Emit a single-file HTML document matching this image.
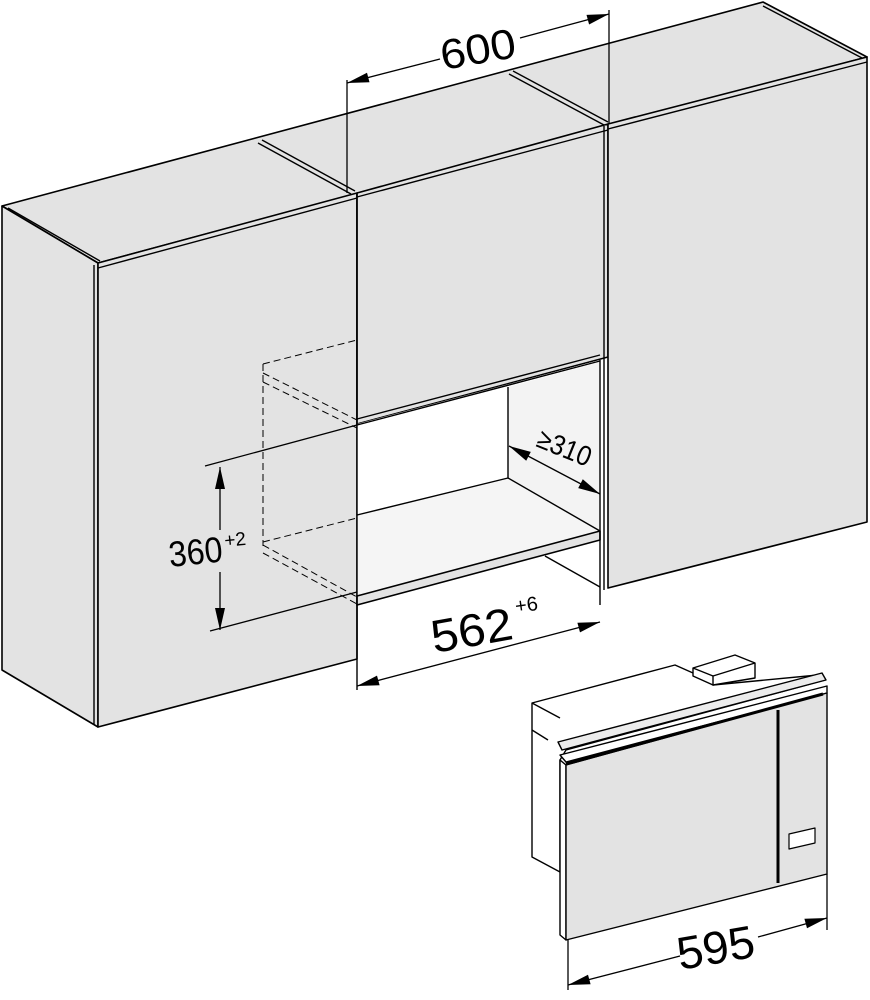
<!DOCTYPE html>
<html><head><meta charset="utf-8"><style>
html,body{margin:0;padding:0;background:#fff;}
svg{display:block;}
text{font-family:"Liberation Sans",sans-serif;fill:#000;}
</style></head><body>
<svg width="870" height="1000" viewBox="0 0 870 1000" xmlns="http://www.w3.org/2000/svg">
<g stroke="#000" stroke-width="1.6" stroke-linejoin="round" fill="#e3e3e3">
<polygon points="2,206 763,2 867,57 98,263"/>
<polygon points="2,206 98,263 98,727 2,670"/>
<polygon points="98,263 357,193 357,659 98,727"/>
<polygon points="357,193 608,124 608,357 357,424"/>
<polygon points="608,124 867,57 867,522 608,588"/>
<polygon points="357,424 600,360 600,531 357,596" fill="#fff" stroke="none"/>
<polygon points="508,387 600,362 600,531 508,478" fill="#f3f3f3" stroke="none"/>
<polygon points="357,515 508,478 600,531 357,596" fill="#f5f5f5" stroke="none"/>
<polygon points="357,596 600,531 600,540 357,605" fill="#e3e3e3"/>
</g>
<g stroke="#000" stroke-width="1.4" fill="none">
<line x1="8" y1="208" x2="100" y2="261"/>
<line x1="98" y1="268" x2="357" y2="198"/>
<line x1="262" y1="140" x2="355" y2="191"/>
<line x1="258" y1="143" x2="351" y2="194"/>
<line x1="357" y1="197" x2="608" y2="130"/>
<line x1="513" y1="71" x2="608" y2="122"/>
<line x1="509" y1="74" x2="604" y2="125"/>
<line x1="608" y1="129" x2="867" y2="62"/>
<line x1="763" y1="6" x2="862" y2="58"/>
<line x1="94" y1="265" x2="94" y2="725"/>
<line x1="357" y1="193" x2="357" y2="424"/>
<line x1="604" y1="126" x2="604" y2="590"/>
<line x1="357" y1="419" x2="600" y2="355"/>
<line x1="357" y1="425" x2="600" y2="361"/>
<line x1="508" y1="387" x2="508" y2="478"/>
<line x1="357" y1="515" x2="508" y2="478"/>
<line x1="508" y1="478" x2="600" y2="531"/>
<line x1="600" y1="360" x2="600" y2="605"/>
<line x1="545" y1="556" x2="600" y2="587"/>
<line x1="357" y1="424" x2="357" y2="690"/>
</g>
<g stroke="#000" stroke-width="1" fill="none" stroke-dasharray="7,4">
<line x1="263" y1="364" x2="357" y2="340"/>
<line x1="263" y1="364" x2="263" y2="546"/>
<line x1="263" y1="373" x2="357" y2="420"/>
<line x1="263" y1="382" x2="357" y2="428"/>
<line x1="263" y1="542" x2="357" y2="518"/>
<line x1="263" y1="545" x2="357" y2="597"/>
<line x1="263" y1="553" x2="357" y2="604"/>
</g>
<g stroke="#000" stroke-width="1.3" fill="none">
<line x1="347" y1="80" x2="347" y2="193"/>
<line x1="609" y1="10" x2="609" y2="124"/>
<line x1="347" y1="83" x2="440" y2="59"/>
<line x1="520" y1="38" x2="609" y2="14"/>
<line x1="205" y1="466" x2="357" y2="425"/>
<line x1="210" y1="631" x2="357" y2="592"/>
<line x1="220" y1="467" x2="220" y2="530"/>
<line x1="220" y1="572" x2="220" y2="630"/>
<line x1="357" y1="686" x2="600" y2="622"/>
<line x1="509" y1="446" x2="600" y2="494"/>
<line x1="568" y1="940" x2="568" y2="990"/>
<line x1="827" y1="874" x2="827" y2="930"/>
<line x1="568" y1="985" x2="680" y2="956"/>
<line x1="758" y1="937" x2="827" y2="918"/>
</g>
<g fill="#000" stroke="none">
<polygon points="347,83 369.5,82.3 367,72.7"/>
<polygon points="609,14 589.1,24.5 586.5,14.9"/>
<polygon points="220,467 215,489 225,489"/>
<polygon points="220,630 215,608 225,608"/>
<polygon points="357,686 379.6,685.2 377,675.6"/>
<polygon points="600,622 580,632.4 577.4,622.8"/>
<polygon points="509,446 526.2,460.7 530.8,451.9"/>
<polygon points="600,494 578.2,488.1 582.8,479.3"/>
<polygon points="568,985 590.6,984.3 588,974.7"/>
<polygon points="827,918 807,928.3 804.4,918.7"/>
</g>
<g>
<text x="0" y="0" font-size="42" textLength="76" lengthAdjust="spacingAndGlyphs" transform="translate(443,70) rotate(-10)">600</text>
<text x="0" y="0" font-size="36" textLength="54" lengthAdjust="spacingAndGlyphs" transform="translate(170,567) rotate(-6)">360</text>
<text x="0" y="0" font-size="19" transform="translate(225,547) rotate(-6)">+2</text>
<text x="0" y="0" font-size="46" textLength="82" lengthAdjust="spacingAndGlyphs" transform="translate(434,653) rotate(-10)">562</text>
<text x="0" y="0" font-size="20" transform="translate(516,613) rotate(-8)">+6</text>
<text x="0" y="0" font-size="28" textLength="56" lengthAdjust="spacingAndGlyphs" transform="translate(535,446) rotate(22)">≥310</text>
<text x="0" y="0" font-size="46" textLength="78" lengthAdjust="spacingAndGlyphs" transform="translate(680,970) rotate(-10)">595</text>
</g>
<g stroke="#000" stroke-width="1.4" stroke-linejoin="round">
<polygon points="532,703 675,665 693,673 713,685 818,675 825,680 566,750 560,760 560,872 532,857" fill="#fff"/>
<polygon points="693,668 735,655 755,663 755,678 713,685 693,676" fill="#fff"/>
<line x1="693" y1="668" x2="713" y2="676"/>
<line x1="713" y1="676" x2="755" y2="663"/>
<line x1="713" y1="676" x2="713" y2="685"/>
<line x1="532" y1="703" x2="560" y2="718"/>
<line x1="532" y1="730" x2="548" y2="740"/>
<polygon points="558,742 822,673 826,680 562,750" fill="#ececec"/>
<polygon points="560,755 827,686 827,693 566,762" fill="#fff"/>
<polygon points="560,760 566,765 566,940 560,935" fill="#fff"/>
<polygon points="566,765 827,693 827,874 566,940" fill="#e3e3e3"/>
<line x1="566" y1="764" x2="823" y2="694" stroke-width="3"/>
<line x1="778" y1="710" x2="778" y2="883" stroke-width="3"/>
<polygon points="789,834 815,828 815,843 789,849" fill="#fff" stroke-width="1.2"/>
</g>
</svg>
</body></html>
